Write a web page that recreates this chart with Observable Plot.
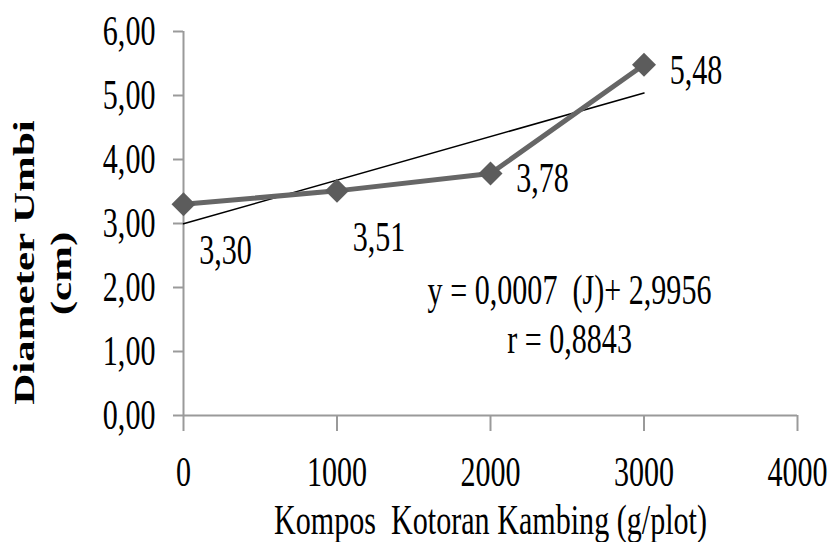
<!DOCTYPE html>
<html><head><meta charset="utf-8">
<script src="https://cdn.jsdelivr.net/npm/d3@7"></script>
<script src="https://cdn.jsdelivr.net/npm/@observablehq/plot@0.6"></script>
<style>body{margin:0;background:#fff}</style>
</head><body><div id="chart"></div>
<script>
// ---- data ----
const dosis = [0, 1000, 2000, 3000];          // Kompos Kotoran Kambing (g/plot)
const diameter = [3.30, 3.51, 3.78, 5.48];     // Diameter Umbi (cm)
const xTicks = [0, 1000, 2000, 3000, 4000];
const yTicks = [0, 1, 2, 3, 4, 5, 6];
const xTitle = "Kompos  Kotoran Kambing (g/plot)";
const yTitleLines = ["Diameter Umbi", "(cm)"];
const equationLines = ["y = 0,0007  (J)+ 2,9956", "r = 0,8843"];
const equationAnchor = [{x: 2515, y: 1.61}];

const data = dosis.map((x, i) => ({x, y: diameter[i], i}));
const fmt2 = d => d.toFixed(2).replace(".", ",");

const FONT = "'Liberation Serif', 'Times New Roman', serif";
const SX = 0.7;

const chart = Plot.plot({
  width: 829, height: 542,
  marginLeft: 183, marginRight: 32, marginTop: 31, marginBottom: 127,
  style: {fontFamily: FONT, fontSize: "43px", color: "#000", background: "#fff"},
  x: {domain: [0, 4000], label: null},
  y: {domain: [0, 6], label: null},
  marks: [
    Plot.axisY({ticks: yTicks, tickFormat: fmt2, tickSize: 10, tickPadding: 18, stroke: "#9a9a9a", strokeWidth: 2, fill: "#000", label: null}),
    Plot.axisX({ticks: xTicks, tickFormat: d => String(d), tickSize: 16, tickPadding: 24, stroke: "#9a9a9a", strokeWidth: 2, fill: "#000", label: null}),
    Plot.ruleX([0], {stroke: "#9a9a9a", strokeWidth: 2}),
    Plot.ruleY([0], {stroke: "#9a9a9a", strokeWidth: 2}),
    Plot.linearRegressionY(data, {x: "x", y: "y", ci: 0, stroke: "#000", strokeWidth: 1.5}),
    Plot.line(data, {x: "x", y: "y", stroke: "#666", strokeWidth: 5}),
    Plot.dot(data, {x: "x", y: "y", symbol: "diamond2", r: 10.8, fill: "#5c5c5c", stroke: "none", ariaLabel: "markers"}),
    Plot.text(data.filter(d => d.i < 2), {x: "x", y: "y", text: d => fmt2(d.y), dx: 42, dy: 46, lineAnchor: "middle", fill: "#000"}),
    Plot.text(data.filter(d => d.i >= 2), {x: "x", y: "y", text: d => fmt2(d.y), dx: 52, dy: 5, lineAnchor: "middle", fill: "#000"}),
    Plot.text(equationAnchor, {x: "x", y: "y", text: () => equationLines.join("\n"), lineHeight: 1.14, lineAnchor: "middle", fill: "#000"}),
    Plot.text([xTitle], {frameAnchor: "bottom", text: d => d, textAnchor: "middle", lineAnchor: "bottom", dy: 118, fill: "#000", ariaLabel: "xtitle"}),
    Plot.text([yTitleLines[0]], {frameAnchor: "left", text: d => d, rotate: -90, textAnchor: "middle", lineAnchor: "bottom", dx: -150, dy: 39, fontWeight: "bold", fill: "#000", ariaLabel: "ytitle"}),
    Plot.text([yTitleLines[1]], {frameAnchor: "left", text: d => d, rotate: -90, textAnchor: "middle", lineAnchor: "bottom", dx: -113, dy: 50, fontWeight: "bold", fill: "#000", ariaLabel: "ytitle2"})
  ]
});

// condensed look of the original: squeeze glyphs horizontally around their anchor
chart.querySelectorAll("text").forEach(t => {
  let sc = `scale(${SX},1)`;
  if (t.closest('[aria-label="ytitle"]')) sc = `scale(${SX},1.12)`;
  else if (t.closest('[aria-label="ytitle2"]')) sc = `scale(${SX},1.04)`;
  else if (t.closest('[aria-label="xtitle"]')) sc = `scale(0.72,1)`;
  const tr = t.getAttribute("transform");
  if (tr) {
    if (tr.includes("rotate(")) t.setAttribute("transform", tr.replace("rotate(", sc + " rotate("));
    else t.setAttribute("transform", tr + " " + sc);
  } else {
    const x = parseFloat(t.getAttribute("x")) || 0;
    t.setAttribute("x", 0);
    t.setAttribute("transform", `translate(${x},0) ` + sc);
  }
});
chart.querySelectorAll('[aria-label="markers"] path').forEach(p => {
  const tr = p.getAttribute("transform") || "";
  p.setAttribute("transform", tr + ` scale(${SX},1)`);
});

document.getElementById("chart").appendChild(chart);
</script>
</body></html>
